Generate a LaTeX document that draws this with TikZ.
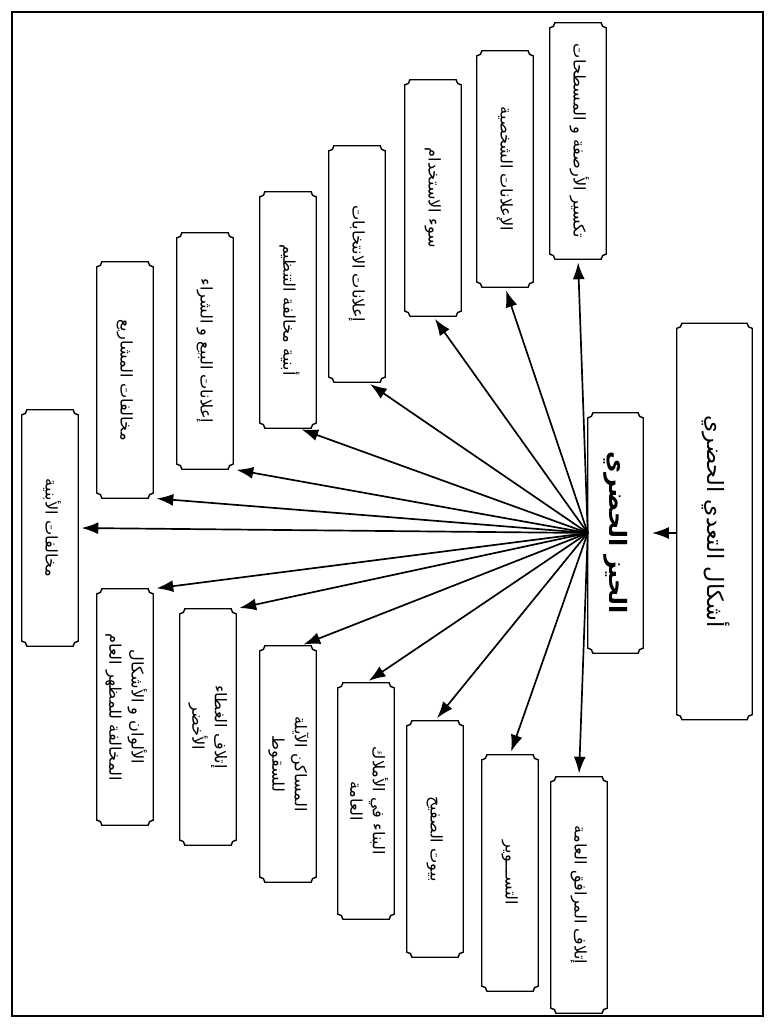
\documentclass[tikz,border=0pt]{standalone}
\usepackage{fontspec}
\usepackage{graphicx}
\usetikzlibrary{arrows.meta,calc}
\newfontfamily\arabicfont[Script=Arabic]{DejaVu Sans}
\TeXXeTstate=1
\tikzset{
  lawha/.style={minimum width=14mm, minimum height=59mm, inner sep=0pt,
                font=\arabicfont\fontsize{11.5}{16}\selectfont},
  lawhakabira/.style={minimum width=18.75mm, minimum height=99mm, inner sep=0pt,
                font=\arabicfont\fontsize{16}{20}\selectfont},
  lawhawasat/.style={minimum width=13.75mm, minimum height=60mm, inner sep=0pt,
                font=\arabicfont\bfseries\fontsize{17}{21}\selectfont},
  itar/.style={draw=black, line width=1pt},
  sahm/.style={-{Latex[length=4.2mm,width=3mm]}, line width=1.2pt, black},
}
\newcommand{\wasf}[1]{\rotatebox{-90}{\begin{tabular}{@{}c@{}}#1\end{tabular}}}

\begin{document}
\begin{tikzpicture}[x=0.25mm, y=0.25mm]
  \useasboundingbox (0,0) rectangle (775,1028);
  \draw[line width=1.6pt] (12,12) rectangle (763,1016);

  % إطار اللوحة: مستطيل بزوايا مقعرة
  \newcommand{\lawharasm}[1]{%
    \draw[itar] ($(#1.north west)+(1.3mm,0)$) -- ($(#1.north east)+(-1.3mm,0)$)
      arc[start angle=180, end angle=270, radius=1.3mm]
      -- ($(#1.south east)+(0,1.3mm)$)
      arc[start angle=90, end angle=180, radius=1.3mm]
      -- ($(#1.south west)+(1.3mm,0)$)
      arc[start angle=0, end angle=90, radius=1.3mm]
      -- ($(#1.north west)+(0,-1.3mm)$)
      arc[start angle=270, end angle=360, radius=1.3mm] -- cycle;}

  % العنوان والعقدة المركزية
  \node[lawhakabira] (ashkal) at (714.5,506.5) {\wasf{\beginR أشكال التعدي الحضري\endR}};
  \node[lawhawasat] (hayyiz) at (615.5,495) {\wasf{\beginR الحيز الحضري\endR}};

  % الأشكال الخمسة عشر
  \foreach \n/\x/\y/\t in {
      1/578/887/{\beginR تكسير الأرصفة و المسطحات\endR},
      2/505/859/{\beginR الإعلانات الشخصية\endR},
      3/433/830/{\beginR سوء الاستخدام\endR},
      4/357/764/{\beginR إعلانات الانتخابات\endR},
      5/288/718/{\beginR أبنية مخالفة التنظيم\endR},
      6/205/677/{\beginR إعلانات البيع و الشراء\endR},
      7/125/648/{\beginR مخالفات المشاريع\endR},
      8/50/500/{\beginR مخالفات الأبنية\endR},
      9/125/321/{\beginR الألوان و الأشكال\endR\\\beginR المخالفة للمظهر العام\endR},
      10/208/301/{\beginR إتلاف الغطاء\endR\\\beginR الأخضر\endR},
      11/288/264/{\beginR المساكن الآيلة\endR\\\beginR للسقوط\endR},
      12/366/227/{\beginR البناء في الأملاك\endR\\\beginR العامة\endR},
      13/435/189/{\beginR بيوت الصفيح\endR},
      14/510/155/{\beginR التســـوير\endR},
      15/579/133/{\beginR إتلاف المرافق العامة\endR}}{
    \node[lawha] (f\n) at (\x,\y) {\wasf{\t}};
  }

  \foreach \n in {ashkal,hayyiz,f1,f2,f3,f4,f5,f6,f7,f8,f9,f10,f11,f12,f13,f14,f15}{
    \lawharasm{\n}
  }

  % الأسهم
  \draw[sahm, shorten >=2.2mm] (ashkal.west |- hayyiz.east) -- (hayyiz.east);
  \foreach \n/\a in {f1/south, f2/south, f3/south, f4/-85, f5/-85, f6/south east,
                     f7/south east, f8/east, f9/north east, f10/north east, f11/84,
                     f12/north, f13/north, f14/north, f15/north}{
    \draw[sahm, shorten >=0.8mm] (hayyiz.west) -- (\n.\a);
  }
\end{tikzpicture}
\end{document}
